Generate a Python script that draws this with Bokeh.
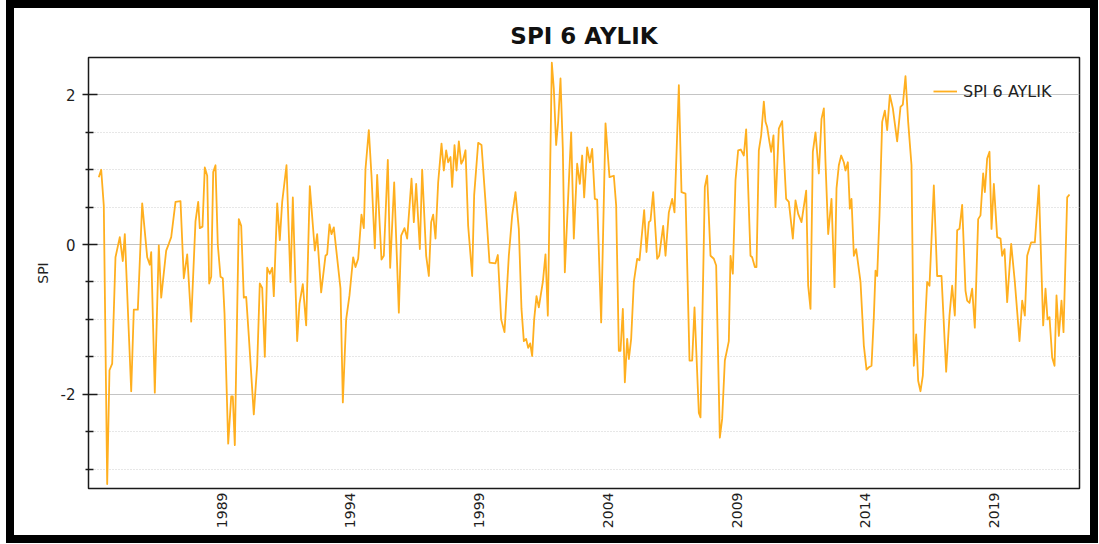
import math
from bokeh.plotting import figure
from bokeh.models import FixedTicker, Legend, LegendItem, Range1d, CustomJSTickFormatter
from bokeh.embed import file_html
from bokeh.resources import INLINE

# decimal year of each traced point
years = [
    1984.235, 1984.328, 1984.429, 1984.561, 1984.650, 1984.755, 1984.883, 1985.050, 1985.167, 1985.245,
    1985.493, 1985.594, 1985.750, 1985.920, 1986.115, 1986.216, 1986.270, 1986.410, 1986.565, 1986.658,
    1986.852, 1986.953, 1987.047, 1987.214, 1987.408, 1987.536, 1987.668, 1987.823, 1987.990, 1988.095,
    1988.157, 1988.262, 1988.351, 1988.445, 1988.522, 1988.600, 1988.678, 1988.767, 1988.856, 1988.961,
    1989.050, 1989.117, 1989.260, 1989.377, 1989.439, 1989.517, 1989.672, 1989.765, 1989.866, 1989.959,
    1990.060, 1990.254, 1990.386, 1990.487, 1990.581, 1990.682, 1990.775, 1990.876, 1990.969, 1991.031,
    1991.163, 1991.264, 1991.357, 1991.524,
    1991.679, 1991.770, 1991.938, 1992.029, 1992.158, 1992.288, 1992.430, 1992.624, 1992.715, 1992.870,
    1993.038, 1993.103, 1993.194, 1993.271, 1993.362, 1993.621, 1993.712, 1993.841, 1993.970, 1994.113,
    1994.203, 1994.307, 1994.436, 1994.527, 1994.592, 1994.721, 1994.825, 1994.954, 1995.045, 1995.213,
    1995.304, 1995.459,
    1995.550, 1995.706, 1995.887, 1995.977, 1996.107, 1996.210, 1996.379, 1996.469, 1996.560, 1996.702,
    1996.793, 1996.948, 1997.052, 1997.142, 1997.220, 1997.311, 1997.414, 1997.544, 1997.634, 1997.725,
    1997.803, 1997.893, 1997.958, 1998.049, 1998.126, 1998.217, 1998.308, 1998.385, 1998.476, 1998.579,
    1998.735, 1998.812, 1998.968, 1999.097, 1999.252, 1999.408,
    1999.640, 1999.731, 1999.860, 1999.990, 2000.158, 2000.288, 2000.417, 2000.546, 2000.650, 2000.741,
    2000.831, 2000.909, 2000.987, 2001.064, 2001.142, 2001.233, 2001.323, 2001.479, 2001.582, 2001.673,
    2001.828, 2001.906, 2001.996, 2002.074, 2002.165, 2002.255, 2002.333, 2002.488, 2002.579, 2002.682,
    2002.812, 2002.915, 2003.006, 2003.084, 2003.200, 2003.304,
    2003.395, 2003.498, 2003.589, 2003.744, 2003.913, 2004.068, 2004.236, 2004.327, 2004.430, 2004.495,
    2004.586, 2004.664, 2004.754, 2004.819, 2004.909, 2005.013, 2005.142, 2005.233, 2005.414, 2005.505,
    2005.596, 2005.660, 2005.764, 2005.919, 2005.997, 2006.152, 2006.243, 2006.372, 2006.502, 2006.592,
    2006.761, 2006.864, 2007.019, 2007.175,
    2007.278, 2007.369, 2007.537, 2007.602, 2007.770, 2007.860, 2007.990, 2008.119, 2008.210, 2008.352,
    2008.443, 2008.547, 2008.637, 2008.702, 2008.767, 2008.857, 2008.961, 2009.064, 2009.168, 2009.284,
    2009.375, 2009.543, 2009.608, 2009.712, 2009.776, 2009.867, 2009.958, 2010.061, 2010.126, 2010.191,
    2010.281, 2010.346, 2010.436, 2010.514, 2010.644, 2010.773, 2010.928, 2011.032,
    2011.188, 2011.291, 2011.395, 2011.524, 2011.706, 2011.783, 2011.874, 2011.964, 2012.068, 2012.197,
    2012.301, 2012.392, 2012.456, 2012.560, 2012.689, 2012.806, 2012.884, 2012.974, 2013.065, 2013.168,
    2013.233, 2013.324, 2013.401, 2013.466, 2013.557, 2013.647, 2013.816, 2013.945, 2014.049, 2014.139,
    2014.243, 2014.333, 2014.398, 2014.463, 2014.553, 2014.657, 2014.761, 2014.851, 2014.955,
    2015.071, 2015.239, 2015.369, 2015.459, 2015.563, 2015.666, 2015.796, 2015.886, 2015.977, 2016.055,
    2016.145, 2016.236, 2016.314, 2016.404, 2016.495, 2016.663, 2016.792, 2016.961, 2017.142, 2017.271,
    2017.375, 2017.479, 2017.569, 2017.660, 2017.763, 2017.893, 2017.958, 2018.048, 2018.152, 2018.255,
    2018.385, 2018.475, 2018.579, 2018.644, 2018.734, 2018.825,
    2018.903, 2018.994, 2019.123, 2019.253, 2019.317, 2019.408, 2019.511, 2019.667, 2019.809, 2019.990,
    2020.094, 2020.198, 2020.288, 2020.443, 2020.586, 2020.741, 2020.909, 2021.000, 2021.078, 2021.155,
    2021.259, 2021.350, 2021.427, 2021.518, 2021.621, 2021.699, 2021.842, 2021.932,
]

# SPI value of each traced point
spi = [
    0.90, 1.00, 0.52, -3.20, -1.68, -1.59, -0.17, 0.10, -0.22, 0.14,
    -1.96, -0.87, -0.87, 0.55, -0.17, -0.27, -0.10, -1.98, -0.01, -0.71,
    -0.08, 0.01, 0.10, 0.57, 0.58, -0.45, -0.13, -1.03, 0.31, 0.57,
    0.22, 0.24, 1.03, 0.92, -0.52, -0.43, 0.97, 1.06, 0.00, -0.43,
    -0.45, -0.92, -2.66, -2.03, -2.03, -2.68, 0.34, 0.25, -0.71, -0.70,
    -1.22, -2.27, -1.61, -0.52, -0.58, -1.50, -0.31, -0.39, -0.31, -0.69,
    0.55, 0.06, 0.57, 1.06,
    -0.50, 0.63, -1.29, -0.79, -0.53, -1.08, 0.78, -0.08, 0.14, -0.64,
    -0.15, -0.13, 0.27, 0.14, 0.23, -0.59, -2.11, -1.00, -0.68, -0.17,
    -0.30, -0.19, 0.40, 0.22, 1.01, 1.53, 0.92, -0.05, 0.93, -0.20,
    -0.15, 1.13,
    -0.31, 0.83, -0.91, 0.12, 0.22, 0.08, 0.88, 0.30, 0.81, -0.06,
    1.00, -0.15, -0.42, 0.30, 0.40, 0.08, 0.83, 1.35, 0.99, 1.26,
    1.10, 1.17, 0.77, 1.33, 0.99, 1.38, 1.08, 1.13, 1.26, 0.25,
    -0.42, 0.66, 1.36, 1.33, 0.57, -0.24,
    -0.25, -0.14, -1.00, -1.17, -0.15, 0.39, 0.70, 0.21, -0.86, -1.29,
    -1.26, -1.38, -1.32, -1.49, -1.00, -0.69, -0.84, -0.50, -0.13, -0.95,
    2.43, 2.08, 1.33, 1.64, 2.22, 1.28, -0.37, 0.83, 1.50, 0.08,
    1.08, 0.81, 1.19, 0.63, 1.30, 1.10,
    1.28, 0.61, 0.60, -1.04, 1.62, 0.90, 0.92, 0.52, -1.42, -1.42,
    -0.86, -1.84, -1.26, -1.53, -1.26, -0.50, -0.19, -0.21, 0.46, -0.10,
    0.30, 0.32, 0.70, -0.19, -0.15, 0.25, -0.15, 0.43, 0.61, 0.43,
    2.13, 0.70, 0.68, -1.55,
    -1.55, -0.84, -2.25, -2.31, 0.77, 0.92, -0.15, -0.19, -0.28, -2.58,
    -2.33, -1.55, -1.40, -1.29, -0.15, -0.39, 0.86, 1.26, 1.27, 1.19,
    1.54, -0.15, -0.17, -0.30, -0.30, 1.26, 1.46, 1.91, 1.64, 1.57,
    1.37, 1.24, 1.46, 0.50, 1.55, 1.65, 0.61, 0.57,
    0.08, 0.59, 0.41, 0.30, 0.72, -0.55, -0.86, 1.24, 1.50, 0.95,
    1.68, 1.82, 1.10, 0.14, 0.61, -0.57, 0.75, 1.06, 1.19, 1.10,
    0.99, 1.10, 0.48, 0.61, -0.15, -0.06, -0.50, -1.35, -1.67, -1.64,
    -1.62, -0.97, -0.35, -0.42, 0.39, 1.64, 1.79, 1.53, 2.00,
    1.82, 1.38, 1.84, 1.87, 2.25, 1.64, 1.06, -1.62, -1.20, -1.82,
    -1.96, -1.75, -1.13, -0.50, -0.55, 0.79, -0.42, -0.42, -1.70, -0.95,
    -0.55, -0.95, 0.19, 0.21, 0.53, -0.62, -0.75, -0.78, -0.59, -1.11,
    0.34, 0.39, 0.95, 0.70, 1.15, 1.24,
    0.21, 0.81, 0.10, 0.08, -0.15, -0.06, -0.77, 0.01, -0.50, -1.29,
    -0.75, -0.95, -0.15, 0.03, 0.03, 0.79, -1.08, -0.59, -1.00, -0.97,
    -1.51, -1.62, -0.68, -1.22, -0.75, -1.17, 0.63, 0.67,
]

tick_years = [1989, 1994, 1999, 2004, 2009, 2014, 2019]
major_y = [-2, 0, 2]
minor_y = [-3, -2.5, -1.5, -1, -0.5, 0.5, 1, 1.5]

FONT = "DejaVu Sans"

p = figure(
    width=1076, height=527,
    output_backend="svg", toolbar_location=None,
    x_range=Range1d(1983.835, 2022.32), y_range=Range1d(-3.26, 2.50),
    min_border_left=74, min_border_right=27, min_border_top=49, min_border_bottom=63,
    title="SPI 6 AYLIK", y_axis_label="SPI",
    background_fill_color="white", border_fill_color="white",
    styles={"position": "absolute", "left": "6px", "top": "0px",
            "box-sizing": "content-box",
            "border": "8px solid black"},
)

p.title.text_font = FONT
p.title.text_font_style = "bold"
p.title.text_font_size = "23px"
p.title.text_color = "#111111"
p.title.align = "center"
p.title.standoff = 17

p.outline_line_color = "#1a1a1a"
p.outline_line_width = 1.5
p.outline_line_alpha = 1

# x axis
p.xaxis.ticker = FixedTicker(ticks=tick_years, minor_ticks=[])
p.xaxis.major_label_orientation = math.pi / 2
p.xaxis.major_tick_in = 0
p.xaxis.major_tick_out = 0
p.xaxis.minor_tick_in = 0
p.xaxis.minor_tick_out = 0
p.xaxis.major_label_standoff = 4
p.xaxis.axis_line_color = "#1a1a1a"

# y axis
p.yaxis.ticker = FixedTicker(ticks=major_y, minor_ticks=minor_y)
p.yaxis.formatter = CustomJSTickFormatter(code="return tick.toFixed(0);")
p.yaxis.major_tick_in = 9
p.yaxis.major_tick_out = 6
p.yaxis.minor_tick_in = 5
p.yaxis.minor_tick_out = 3
p.yaxis.major_tick_line_color = "#1a1a1a"
p.yaxis.minor_tick_line_color = "#1a1a1a"
p.yaxis.major_tick_line_width = 1.5
p.yaxis.minor_tick_line_width = 1.5
p.yaxis.major_label_standoff = 7
p.yaxis.axis_line_color = "#1a1a1a"
p.yaxis.axis_label_standoff = 7
p.yaxis.axis_label_text_font = FONT
p.yaxis.axis_label_text_font_size = "14px"
p.yaxis.axis_label_text_font_style = "normal"
p.yaxis.axis_label_text_color = "#222222"

p.axis.major_label_text_font = FONT
p.axis.major_label_text_color = "#1e1e1e"
p.xaxis.major_label_text_font_size = "14px"
p.yaxis.major_label_text_font_size = "15px"

# grids
p.xgrid.visible = False
p.ygrid.grid_line_color = "#c4c4c4"
p.ygrid.grid_line_width = 1
p.ygrid.minor_grid_line_color = "#cfcfcf"
p.ygrid.minor_grid_line_dash = "1 2"
p.ygrid.minor_grid_line_width = 1

r = p.line(years, spi, line_color="#FFAF1F", line_width=1.8, line_join="round")

legend = Legend(
    items=[LegendItem(label="SPI 6 AYLIK", renderers=[r])],
    location=(845, 387),
    background_fill_alpha=0, border_line_alpha=0,
    padding=0, margin=0, spacing=0,
    glyph_width=24, glyph_height=20, label_standoff=6,
    label_text_font=FONT, label_text_font_size="16px", label_text_color="#222222",
)
p.add_layout(legend)

open("out.html", "w").write(file_html(p, INLINE))
